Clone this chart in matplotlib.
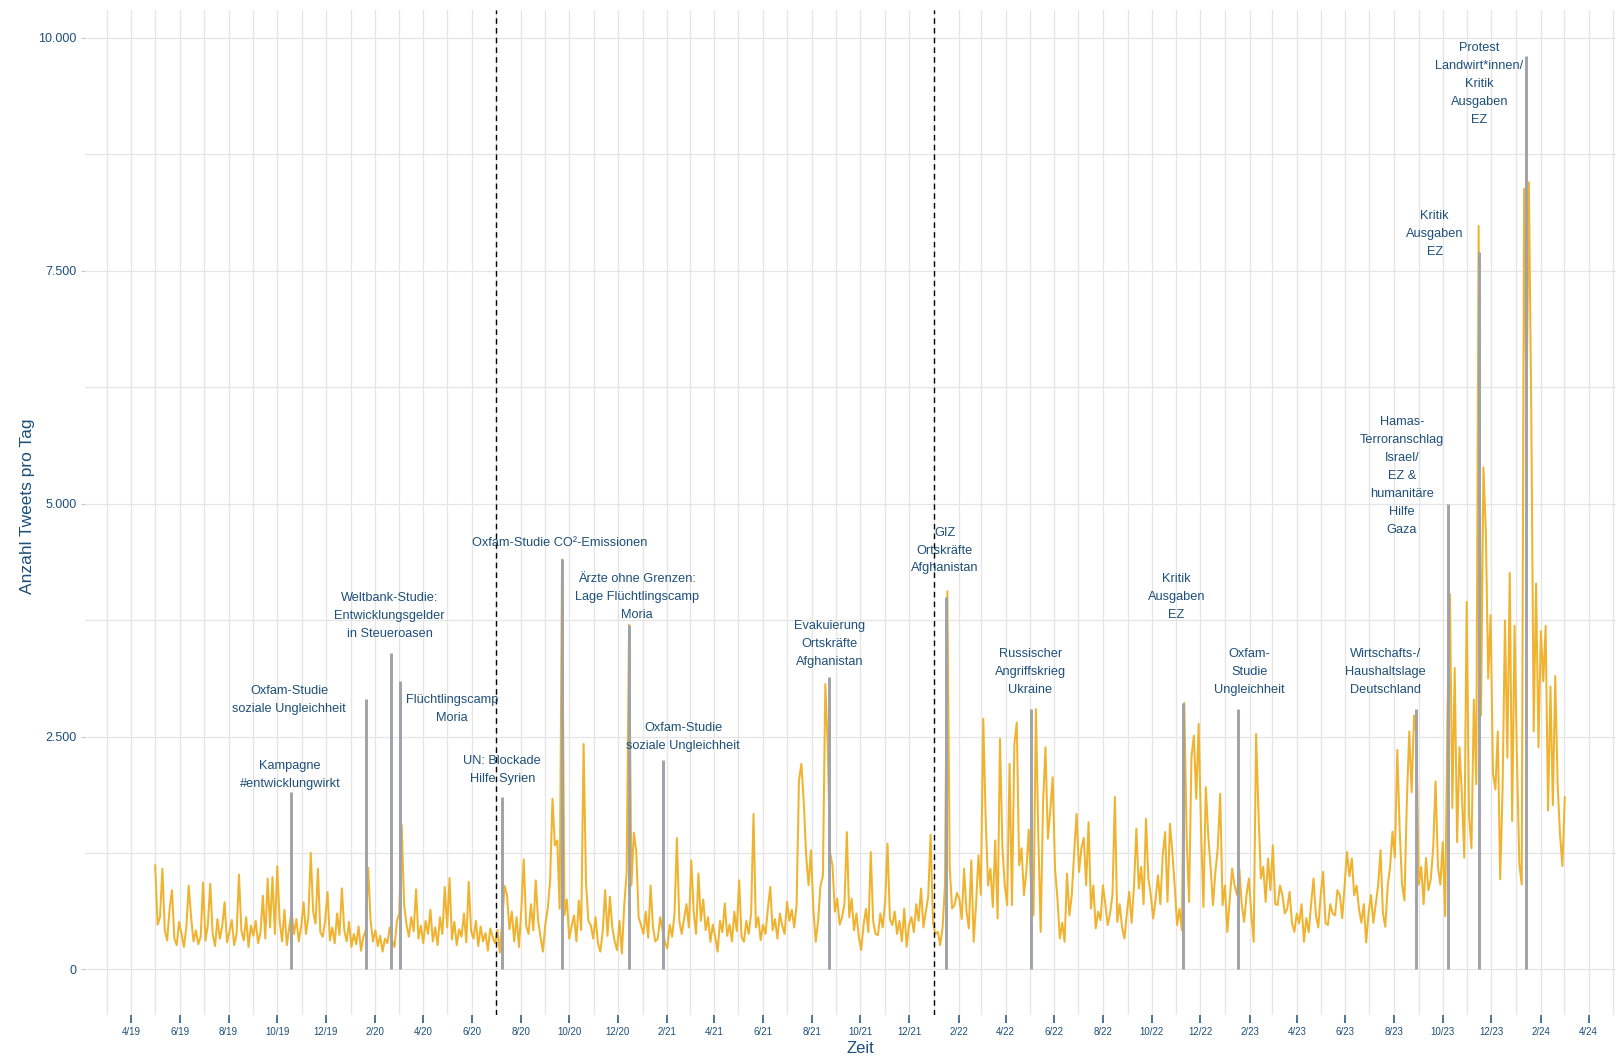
import pandas as pd
import matplotlib
matplotlib.use("Agg")
import matplotlib.pyplot as plt
import matplotlib.dates as mdates
from matplotlib.ticker import FixedLocator, FuncFormatter

plt.rcParams['font.family'] = ['Liberation Sans', 'DejaVu Sans']

# ---------------- data ----------------
series_start = "2019-05-01"   # tweets per day, sampled every 3rd day
tweets_p1 = [  # May 2019 - Oct 2019
    1117, 480, 560, 1080, 420, 310, 640, 850, 330, 260,
    510, 380, 240, 450, 900, 560, 300, 420, 270, 350,
    930, 310, 480, 920, 380, 250, 540, 330, 460, 720,
    290, 400, 530, 260, 380, 1017, 420, 310, 560, 240,
    470, 360, 520, 280, 400, 790, 330, 975, 450, 990,
    380, 1107, 520, 300, 640, 260, 450, 620, 380, 540]
tweets_p2 = [  # Oct 2019 - Apr 2020
    300, 460, 720, 380, 560, 1250, 620, 490, 1080, 400,
    350, 520, 830, 310, 450, 280, 600, 370, 870, 420,
    300, 510, 240, 380, 270, 460, 200, 350, 420, 1090,
    520, 300, 420, 250, 360, 190, 330, 280, 450, 310,
    240, 520, 600, 1550, 700, 480, 350, 560, 410, 860,
    330, 470, 280, 520, 380, 640, 300, 450, 260, 560]
tweets_p3 = [  # Apr 2020 - Oct 2020
    380, 885, 450, 980, 320, 510, 260, 430, 350, 600,
    290, 940, 410, 330, 520, 250, 460, 300, 390, 200,
    440, 350, 280, 420, 180, 520, 895, 800, 430, 620,
    300, 560, 240, 650, 1180, 470, 380, 700, 420, 955,
    520, 350, 190, 480, 650, 940, 1830, 1330, 1385, 650,
    4400, 580, 750, 330, 460, 580, 300, 740, 420, 2420]
tweets_p4 = [  # Oct 2020 - Apr 2021
    940, 520, 475, 330, 560, 280, 190, 410, 850, 360,
    780, 450, 300, 207, 520, 170, 690, 1046, 3700, 900,
    1467, 1270, 560, 475, 380, 620, 340, 900, 450, 300,
    330, 560, 420, 290, 225, 480, 350, 600, 1410, 520,
    380, 546, 700, 450, 1170, 620, 380, 1030, 520, 750,
    420, 560, 296, 480, 350, 190, 520, 400, 707, 360]
tweets_p5 = [  # Apr 2021 - Oct 2021
    480, 300, 620, 410, 957, 350, 296, 520, 380, 600,
    1670, 450, 560, 314, 480, 380, 650, 885, 420, 540,
    330, 600, 470, 380, 725, 520, 640, 450, 690, 2030,
    2206, 1795, 1224, 903, 1278, 650, 296, 520, 903, 1000,
    3063, 2400, 1250, 1117, 620, 760, 480, 560, 700, 1474,
    560, 760, 420, 600, 350, 207, 480, 650, 400, 1260]
tweets_p6 = [  # Oct 2021 - Apr 2022
    520, 380, 368, 600, 450, 720, 1350, 540, 475, 620,
    380, 520, 300, 650, 243, 480, 560, 400, 700, 520,
    868, 450, 620, 780, 1446, 500, 380, 403, 260, 450,
    900, 4060, 1080, 653, 690, 820, 760, 540, 1080, 620,
    440, 1170, 296, 700, 1224, 800, 2690, 1635, 900, 1080,
    670, 1385, 546, 2474, 1314, 900, 690, 2206, 690, 2420]
tweets_p7 = [  # Apr 2022 - Oct 2022
    2650, 1117, 1300, 796, 1046, 1500, 900, 580, 2795, 1440,
    403, 1800, 2385, 1403, 1700, 2063, 1080, 760, 332, 500,
    296, 1028, 580, 800, 1260, 1670, 1046, 1300, 1410, 903,
    1580, 653, 900, 440, 620, 528, 903, 700, 475, 600,
    800, 1850, 510, 700, 450, 332, 600, 832, 500, 900,
    1510, 868, 1100, 700, 1617, 975, 800, 546, 750, 1010]
tweets_p8 = [  # Oct 2022 - Apr 2023
    700, 1224, 1474, 725, 1564, 1260, 900, 475, 650, 420,
    2860, 1403, 725, 2278, 2510, 1831, 2635, 1510, 670, 1956,
    1440, 1100, 690, 1046, 1300, 1885, 690, 900, 403, 750,
    1080, 900, 800, 1080, 700, 510, 800, 975, 600, 296,
    2528, 1690, 975, 1100, 725, 1190, 850, 1332, 700, 690,
    900, 796, 600, 650, 832, 500, 403, 600, 493, 700]
tweets_p9 = [  # Apr 2023 - Oct 2023
    296, 550, 400, 700, 975, 580, 450, 800, 1046, 500,
    475, 700, 600, 580, 850, 796, 550, 900, 1260, 1000,
    1190, 796, 900, 650, 500, 700, 288, 600, 798, 500,
    700, 900, 1280, 600, 458, 900, 1100, 1478, 1200, 2357,
    1500, 911, 741, 1800, 2555, 1900, 2725, 2527, 911, 1100,
    700, 1195, 850, 968, 1300, 2017, 1100, 911, 1365, 571]
tweets_p10 = [  # Oct 2023 - Mar 2024
    2800, 4029, 1733, 3235, 1365, 2385, 1875, 1200, 3944, 1648,
    1300, 2895, 1988, 7980, 2725, 5389, 4709, 3122, 3802, 2102,
    1932, 2555, 968, 1932, 3746, 2272, 4256, 1592, 3689, 2272,
    1138, 911, 8380, 6000, 8450, 5956, 2555, 4142, 2385, 3632,
    3094, 3689, 1705, 3037, 1762, 3150, 1988, 1450, 1110, 1847]

event_dates = ["2019-10-18", "2020-01-20", "2020-02-20", "2020-03-03", "2020-07-09",
               "2020-09-22", "2020-12-15", "2021-01-26", "2021-08-23", "2022-01-16",
               "2022-05-03", "2022-11-10", "2023-01-17", "2023-08-28", "2023-10-08",
               "2023-11-16", "2024-01-13"]
event_heights = [1900, 2900, 3400, 3100, 1850, 4410, 3700, 2250, 3140, 4000,
                 2800, 2860, 2800, 2800, 5000, 7700, 9810]

label_texts = [
    "Kampagne\n#entwicklungwirkt",
    "Oxfam-Studie\nsoziale Ungleichheit",
    "Weltbank-Studie:\nEntwicklungsgelder\nin Steueroasen",
    "Flüchtlingscamp\nMoria",
    "UN: Blockade\nHilfe Syrien",
    "Oxfam-Studie CO²-Emissionen",
    "Ärzte ohne Grenzen:\nLage Flüchtlingscamp\nMoria",
    "Oxfam-Studie\nsoziale Ungleichheit",
    "Evakuierung\nOrtskräfte\nAfghanistan",
    "GIZ\nOrtskräfte\nAfghanistan",
    "Russischer\nAngriffskrieg\nUkraine",
    "Kritik\nAusgaben\nEZ",
    "Oxfam-\nStudie\nUngleichheit",
    "Wirtschafts-/\nHaushaltslage\nDeutschland",
    "Hamas-\nTerroranschlag\nIsrael/\nEZ &\nhumanitäre\nHilfe\nGaza",
    "Kritik\nAusgaben\nEZ",
    "Protest\nLandwirt*innen/\nKritik\nAusgaben\nEZ",
]
label_dates = ["2019-10-17", "2019-10-16", "2020-02-19", "2020-05-07", "2020-07-09",
               "2020-09-19", "2020-12-25", "2021-02-21", "2021-08-23", "2022-01-15",
               "2022-05-02", "2022-11-01", "2023-02-01", "2023-07-21", "2023-08-11",
               "2023-09-21", "2023-11-16"]
label_values = [2088, 2893, 3794, 2794, 2141, 4581, 3996, 2496, 3493, 4497,
                3191, 3996, 3191, 3191, 5299, 7892, 9502]

phase_breaks = ["2020-07-01", "2022-01-01"]

y_ticks = [0, 2500, 5000, 7500, 10000]

# ---------------- plot ----------------
values = (tweets_p1 + tweets_p2 + tweets_p3 + tweets_p4 + tweets_p5 +
          tweets_p6 + tweets_p7 + tweets_p8 + tweets_p9 + tweets_p10)
dates = pd.date_range(series_start, periods=len(values), freq="3D")

BLUE = "#1d4f7a"
YELLOW = "#F0B330"
GRAY = "#9fa2a7"
GRID = "#e5e5e5"

W, H = 1616, 1058
fig = plt.figure(figsize=(W / 100, H / 100), dpi=100)
ax = fig.add_axes([85 / W, (H - 1015) / H, (1635 - 85) / W, (1015 - 10) / H])
for s in ax.spines.values():
    s.set_visible(False)

ax.plot(dates, values, color=YELLOW, lw=1.45, zorder=3)
ax.vlines(pd.to_datetime(event_dates), 0, event_heights, color=GRAY, lw=2.1, zorder=4)
for d in phase_breaks:
    ax.axvline(pd.Timestamp(d), color="black", lw=1.0, ls=(0, (4, 3)), zorder=5)

for t, d, v in zip(label_texts, label_dates, label_values):
    ax.text(pd.Timestamp(d), v, t, ha="center", va="center", multialignment="center",
            fontsize=9.2, color=BLUE, linespacing=1.66, zorder=6)

ax.set_xlim(pd.Timestamp("2019-02-02"), pd.Timestamp("2024-05-29"))
ax.set_ylim(-490, 10300)

major_x = pd.date_range("2019-04-01", "2024-04-01", freq="2MS")
minor_x = pd.date_range("2019-03-01", "2024-06-01", freq="MS")
ax.xaxis.set_major_locator(FixedLocator(mdates.date2num(major_x)))
ax.xaxis.set_minor_locator(FixedLocator(mdates.date2num(minor_x)))
ax.set_xticklabels([f"{d.month}/{d.strftime('%y')}" for d in major_x])
ax.set_yticks(y_ticks)
ax.yaxis.set_minor_locator(FixedLocator([1250, 3750, 6250, 8750]))
ax.yaxis.set_major_formatter(FuncFormatter(lambda v, p: f"{int(v):,}".replace(",", ".")))

ax.grid(True, which="both", color=GRID, lw=0.9, zorder=0)
ax.set_axisbelow(True)
ax.tick_params(axis="x", which="major", length=5.5, width=1.1, color=BLUE,
               labelsize=7, labelcolor=BLUE, pad=3)
ax.tick_params(axis="y", which="major", length=3, width=0.8, color="#c8c8c8",
               labelsize=9, labelcolor=BLUE, pad=3)
ax.tick_params(which="minor", length=0)

ax.set_xlabel("Zeit", fontsize=12, color=BLUE, labelpad=3)
ax.set_ylabel("Anzahl Tweets pro Tag", fontsize=12.5, color=BLUE)
ax.yaxis.set_label_coords(-(85 - 35) / 1550, (1015 - 506) / 1005)

fig.savefig("out.png", dpi=100, facecolor="white")
